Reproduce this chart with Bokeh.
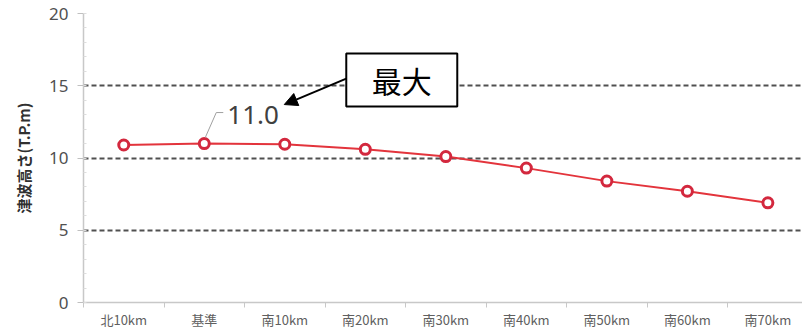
from bokeh.plotting import figure
from bokeh.models import (Range1d, FixedTicker, Label, Arrow, NormalHead,
                          BoxAnnotation, ColumnDataSource)
from bokeh.embed import file_html
from bokeh.resources import INLINE

# Tsunami height (T.P. m) at each coastal position
locations = ["北10km", "基準", "南10km", "南20km", "南30km",
             "南40km", "南50km", "南60km", "南70km"]
heights = [10.9, 11.0, 10.95, 10.6, 10.1, 9.3, 8.4, 7.7, 6.9]
y_ticks = [0, 5, 10, 15, 20]

W, H = 802, 331
LEFT, TOP, BOTTOM = 83, 13, 29
X0, X1 = -0.5, 8.43
Y0, Y1 = 0, 20

p = figure(width=W, height=H, output_backend="svg", toolbar_location=None,
           x_range=Range1d(X0, X1), y_range=Range1d(Y0, Y1),
           min_border_left=LEFT, min_border_right=0,
           min_border_top=TOP, min_border_bottom=BOTTOM)
p.outline_line_color = None
p.background_fill_color = "white"
p.border_fill_color = "white"

# pixel size of one data unit, used to place the callout decorations
frame_w = W - LEFT
frame_h = H - TOP - BOTTOM
sx = frame_w / (X1 - X0)
sy = frame_h / (Y1 - Y0)

idx = list(range(len(locations)))
src = ColumnDataSource(dict(x=idx, y=heights))

# y axis
p.yaxis.ticker = FixedTicker(ticks=y_ticks,
                             minor_ticks=[v for v in range(Y0, Y1 + 1)])
p.yaxis.axis_line_color = "#c8c8c8"
p.yaxis.axis_line_width = 1.5
p.yaxis.major_tick_line_color = "#c0c0c0"
p.yaxis.major_tick_out = 6
p.yaxis.major_tick_in = 0
p.yaxis.minor_tick_line_color = "#dddddd"
p.yaxis.minor_tick_in = 3
p.yaxis.minor_tick_out = 0
p.yaxis.major_label_standoff = 9
p.yaxis.major_label_text_font = "Noto Sans"
p.yaxis.major_label_text_font_size = "17px"
p.yaxis.major_label_text_color = "#505050"
p.yaxis.axis_label = "津波高さ(T.P.m)"
p.yaxis.axis_label_text_font = "Noto Sans CJK JP"
p.yaxis.axis_label_text_font_style = "bold"
p.yaxis.axis_label_text_font_size = "15px"
p.yaxis.axis_label_text_color = "#303030"
p.yaxis.axis_label_standoff = 12

# x axis: labels at category centres, tick marks between categories
p.xaxis.ticker = FixedTicker(ticks=idx,
                             minor_ticks=[i - 0.5 for i in range(len(locations) + 1)])
p.xaxis.major_label_overrides = {i: name for i, name in enumerate(locations)}
p.xaxis.axis_line_color = "#c8c8c8"
p.xaxis.axis_line_width = 1.5
p.xaxis.major_tick_line_color = None
p.xaxis.major_tick_out = 0
p.xaxis.major_tick_in = 0
p.xaxis.minor_tick_line_color = "#c8c8c8"
p.xaxis.minor_tick_out = 5
p.xaxis.minor_tick_in = 0
p.xaxis.major_label_standoff = 2
p.xaxis.major_label_text_font = "Noto Sans CJK JP"
p.xaxis.major_label_text_font_size = "13px"
p.xaxis.major_label_text_color = "#606060"

# grid
p.xgrid.grid_line_color = None
p.ygrid.ticker = FixedTicker(ticks=[t for t in y_ticks if t > 0])
p.ygrid.grid_line_color = "#505050"
p.ygrid.grid_line_width = 2
p.ygrid.grid_line_dash = "5 3"

# series
p.line("x", "y", source=src, line_color="#e3343c", line_width=2)
p.scatter("x", "y", source=src, marker="circle", size=10,
          fill_color="white", line_color="#d3283e", line_width=3)

# callout on the maximum value
imax = max(idx, key=lambda i: heights[i])
mx, my = imax, heights[imax]


def off(dx, dy):
    """data position shifted by dx, dy pixels (dy upwards) from the max point"""
    return mx + dx / sx, my + dy / sy


lx0, ly0 = off(1, 6)
lx1, ly1 = off(12, 31)
lx2, ly2 = off(19, 31)
p.line([lx0, lx1, lx2], [ly0, ly1, ly2], line_color="#a0a0a0", line_width=1)

p.add_layout(Label(x=mx, y=my, x_offset=23, y_offset=29, text=f"{my:.1f}",
                   text_font="Noto Sans", text_font_size="26px",
                   text_color="#404040", text_align="left",
                   text_baseline="middle"))

# "最大" box with arrow pointing at the value
bl, bt = off(142, 90)
br, bb = off(253, 37)
p.add_layout(BoxAnnotation(left=bl, right=br, bottom=bb, top=bt,
                           fill_color="white", fill_alpha=1.0,
                           line_color="black", line_width=2, line_alpha=1.0))
p.add_layout(Label(x=(bl + br) / 2, y=(bb + bt) / 2, text="最大",
                   text_font="Noto Sans CJK JP", text_font_size="30px",
                   text_color="black", text_align="center",
                   text_baseline="middle"))

ax0, ay0 = off(142, 65)
ax1, ay1 = off(80, 39)
p.add_layout(Arrow(end=NormalHead(size=13, fill_color="black",
                                  line_color="black"),
                   x_start=ax0, y_start=ay0, x_end=ax1, y_end=ay1,
                   line_color="black", line_width=2))

open("out.html", "w").write(file_html(p, INLINE))
